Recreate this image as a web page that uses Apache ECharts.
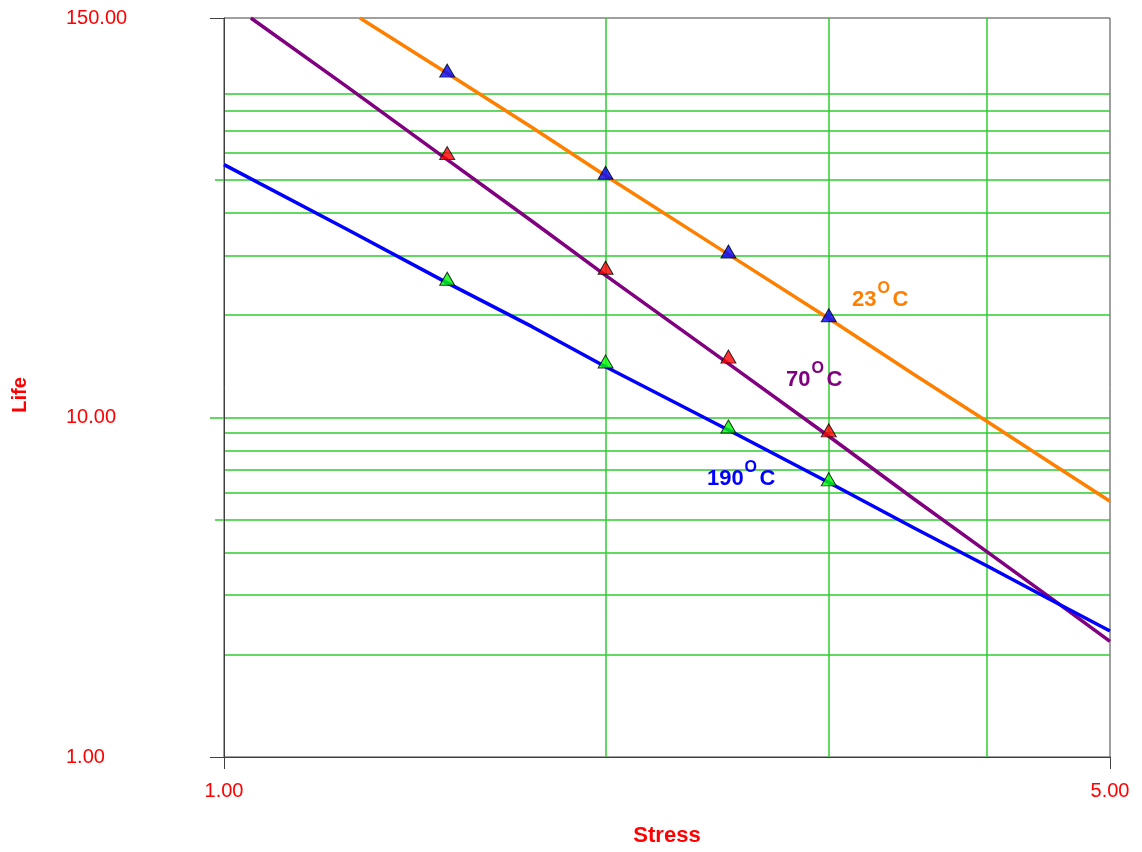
<!DOCTYPE html>
<html>
<head>
<meta charset="utf-8">
<title>Life vs Stress</title>
<script src="https://cdn.jsdelivr.net/npm/echarts@6/dist/echarts.min.js"></script>
<style>
  html, body { margin: 0; padding: 0; background: #fff; }
  #main { width: 1142px; height: 852px; }
</style>
</head>
<body>
<div id="main"></div>
<script>
// stress levels where the test points sit
var testStress = [1.5, 2.0, 2.5, 3.0]

// life at the test points, one array per temperature
var life23 = [105, 52.5, 30.8, 20.0]
var life70 = [60, 27.6, 15.1, 9.16]
var life190 = [25.6, 14.6, 9.4, 6.57]

// fitted lines as [stress, life]
var line23 = [[1.28, 150], [1.5, 103.2], [1.75, 71.4], [2.0, 51.5], [2.5, 30.2], [3.0, 19.55], [3.5, 13.4], [4.0, 9.73], [4.5, 7.3], [5.0, 5.66]]
var line70 = [[1.05, 150], [1.25, 94.2], [1.5, 57.4], [1.75, 37.8], [2.0, 26.2], [2.5, 14.4], [3.0, 8.8], [3.5, 5.76], [4.0, 4.02], [4.5, 2.92], [5.0, 2.19]]
var line190 = [[1.0, 55.5], [1.25, 35.8], [1.5, 24.9], [1.75, 18.5], [2.0, 14.1], [2.5, 9.18], [3.0, 6.43], [3.5, 4.73], [4.0, 3.65], [4.5, 2.89], [5.0, 2.35]]

// ticks, labels and grid lines
var xLabels = [1, 5]
var xGrid = [2, 3, 4]
var yLabels = [1, 10, 150]
var yGrid = [2, 3, 4, 5, 6, 7, 8, 9, 10, 20, 30, 40, 50, 60, 70, 80, 90]

var red = '#ff0000'
var axisGray = '#404040'
var gridGreen = '#2ecc2e'

function pts(xs, ys) {
    var out = []
    for (var i = 0; i < xs.length; i++) out.push([xs[i], ys[i]])
    return out
}

function fmt(v) {
    return Number(v).toFixed(2)
}

var myChart = echarts.init(document.getElementById('main'))

var option = {
    animation: false,
    backgroundColor: '#fff',
    grid: {
        left: 224, top: 18, right: 32, bottom: 94,
        show: true, borderColor: axisGray, borderWidth: 1
    },
    xAxis: [{
        type: 'log', logBase: 10, min: 1, max: 5,
        name: 'Stress', nameLocation: 'middle', nameGap: 68,
        nameTextStyle: { color: red, fontSize: 22, fontWeight: 'bold', fontFamily: 'Liberation Sans, Arial' },
        axisLine: { lineStyle: { color: axisGray, width: 1 } },
        axisTick: { customValues: xLabels, length: 12, lineStyle: { color: axisGray } },
        axisLabel: { customValues: xLabels, formatter: fmt, color: red, fontSize: 20, margin: 24, fontFamily: 'Liberation Sans, Arial' },
        splitLine: { show: false }
    }, {
        type: 'log', logBase: 10, min: 1, max: 5, position: 'bottom',
        axisLine: { show: false },
        axisTick: { show: false, customValues: xGrid },
        axisLabel: { show: false },
        splitLine: { show: true, lineStyle: { color: gridGreen, width: 1.5 } }
    }],
    yAxis: [{
        type: 'log', logBase: 10, min: 1, max: 150,
        axisLine: { lineStyle: { color: axisGray, width: 1 } },
        axisTick: { customValues: [1, 150], length: 14, lineStyle: { color: axisGray } },
        axisLabel: { customValues: yLabels, formatter: fmt, color: red, fontSize: 20, margin: 158, align: 'left', fontFamily: 'Liberation Sans, Arial' },
        splitLine: { show: false }
    }, {
        type: 'log', logBase: 10, min: 1, max: 150, position: 'left',
        axisLine: { show: false },
        axisTick: { show: false, customValues: yGrid },
        axisLabel: { show: false },
        splitLine: { show: true, lineStyle: { color: gridGreen, width: 1.5 } }
    }, {
        type: 'log', logBase: 10, min: 1, max: 150, position: 'left',
        axisLine: { show: false },
        axisTick: { customValues: [5, 50], length: 9, lineStyle: { color: gridGreen, width: 1.5 } },
        axisLabel: { show: false },
        splitLine: { show: false }
    }, {
        type: 'log', logBase: 10, min: 1, max: 150, position: 'left',
        axisLine: { show: false },
        axisTick: { customValues: [10], length: 14, lineStyle: { color: gridGreen, width: 1.5 } },
        axisLabel: { show: false },
        splitLine: { show: false }
    }],
    series: [
        { name: '23C', type: 'line', data: line23, showSymbol: false, lineStyle: { color: '#ff8000', width: 3.5 }, z: 3 },
        { name: '70C', type: 'line', data: line70, showSymbol: false, lineStyle: { color: '#800080', width: 3.5 }, z: 3 },
        { name: '190C', type: 'line', data: line190, showSymbol: false, lineStyle: { color: '#0000ff', width: 3.5 }, z: 3 },
        { name: '23C pts', type: 'scatter', data: pts(testStress, life23), symbol: 'triangle', symbolSize: [15, 13],
          itemStyle: { color: '#0000ff', borderColor: '#000', borderWidth: 1 }, z: 5 },
        { name: '70C pts', type: 'scatter', data: pts(testStress, life70), symbol: 'triangle', symbolSize: [15, 13],
          itemStyle: { color: '#ff0000', borderColor: '#000', borderWidth: 1 }, z: 5 },
        { name: '190C pts', type: 'scatter', data: pts(testStress, life190), symbol: 'triangle', symbolSize: [15, 13],
          itemStyle: { color: '#00ff00', borderColor: '#000', borderWidth: 1 }, z: 5 }
    ],
    graphic: []
}

// temperature labels: number, raised "O", then "C"
function tempLabel(num, x, y, color) {
    var font = 'bold 22px "Liberation Sans", Arial'
    var small = 'bold 16px "Liberation Sans", Arial'
    var w = num.length * 12.2
    return [
        { type: 'text', left: x, top: y - 12, z: 10, style: { text: num, font: font, fill: color } },
        { type: 'text', left: x + w + 1, top: y - 20, z: 10, style: { text: 'O', font: small, fill: color } },
        { type: 'text', left: x + w + 16, top: y - 12, z: 10, style: { text: 'C', font: font, fill: color } }
    ]
}

option.graphic = [].concat(
    tempLabel('23', 852, 301, '#ff8000'),
    tempLabel('70', 786, 381, '#800080'),
    tempLabel('190', 707, 480, '#0000ff'),
    [{
        type: 'text', x: 20, y: 395, rotation: Math.PI / 2, z: 10,
        style: { text: 'Life', font: 'bold 20px "Liberation Sans", Arial', fill: red, align: 'center', verticalAlign: 'middle' }
    }]
)

myChart.setOption(option)
</script>
</body>
</html>
